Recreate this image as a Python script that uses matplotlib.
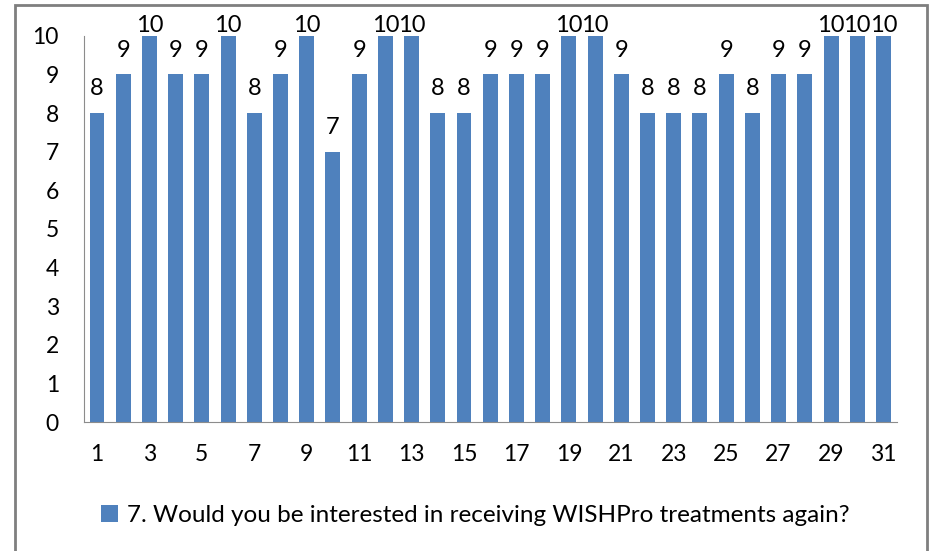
import matplotlib.pyplot as plt
from matplotlib.patches import Rectangle

plt.rcParams['font.family'] = ['Lato', 'DejaVu Sans']

respondents = list(range(1, 32))
scores = [8, 9, 10, 9, 9, 10, 8, 9, 10, 7, 9, 10, 10, 8, 8, 9, 9, 9, 10, 10,
          9, 8, 8, 8, 9, 8, 9, 9, 10, 10, 10]
tick_labels = [str(i) for i in range(1, 32, 2)]
series_name = "7. Would you be interested in receiving WISHPro treatments again?"
y_max = 10

fig = plt.figure(figsize=(9.32, 5.51), dpi=100)
ax = fig.add_axes([0.090, 0.234, 0.872, 0.701])

bars = ax.bar(respondents, scores, width=0.57, color='#4F81BD', label=series_name)
# Excel-style labels: sit above the bar, but clamp to the plot top for max values
for rect, val in zip(bars, scores):
    pad = 0 if val >= y_max else 10
    ax.annotate(str(val), (rect.get_x() + rect.get_width() / 2, val),
                xytext=(0, pad), textcoords='offset points',
                ha='center', va='bottom', fontsize=17, annotation_clip=False)

ax.set_xlim(0.5, 31.5)
ax.set_ylim(0, y_max)
ax.set_yticks(range(0, 11))
ax.set_xticks(range(1, 32, 2))
ax.set_xticklabels(tick_labels)
ax.tick_params(length=0, labelsize=16.5)
ax.tick_params(axis='y', pad=18)
ax.tick_params(axis='x', pad=16)

for side in ['top', 'right']:
    ax.spines[side].set_visible(False)
for side in ['left', 'bottom']:
    ax.spines[side].set_color('#8C8C8C')

fig.legend(handles=[bars], labels=[series_name], loc='center',
           bbox_to_anchor=(0.51, 0.065), frameon=False, fontsize=17.5,
           handlelength=0.7, handleheight=0.7, handletextpad=0.4)

# outer chart border
fig.patches.append(Rectangle((15 / 932, -0.02), 912 / 932, 1 - 5 / 551 + 0.02,
                             transform=fig.transFigure, fill=False,
                             edgecolor='#7F7F7F', linewidth=2))

plt.savefig("out.png")
